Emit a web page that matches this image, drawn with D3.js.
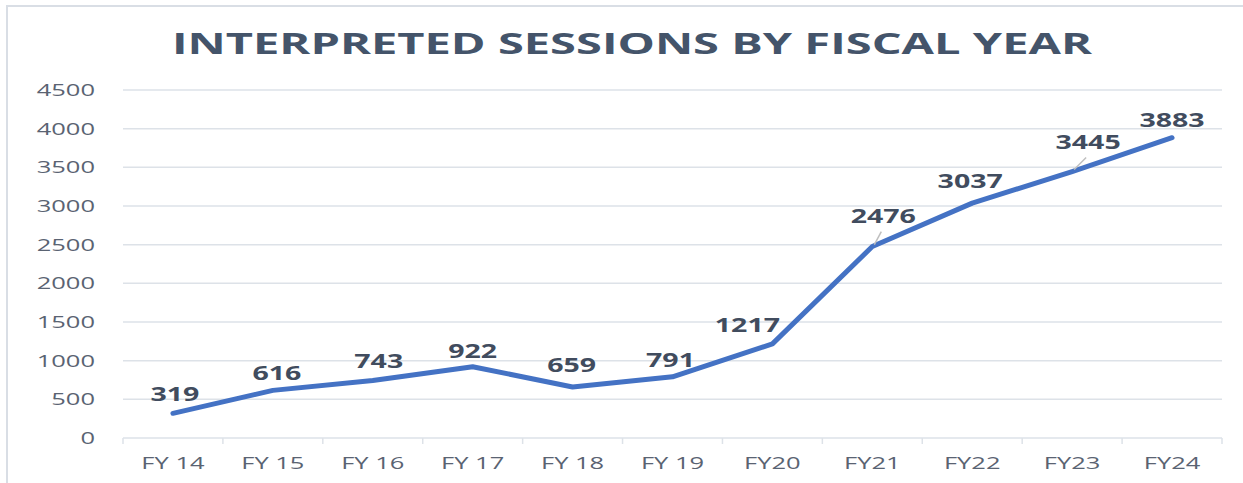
<!DOCTYPE html>
<html><head><meta charset="utf-8">
<script src="https://cdn.jsdelivr.net/npm/d3@7"></script>
<style>body{margin:0;background:#fff}svg{display:block}</style>
</head><body>
<svg id="c" width="1243" height="483"></svg>
<script>
const categories = ["FY 14","FY 15","FY 16","FY 17","FY 18","FY 19","FY20","FY21","FY22","FY23","FY24"];
const sessions = [319,616,743,922,659,791,1217,2476,3037,3445,3883];
const yTicks = [0,500,1000,1500,2000,2500,3000,3500,4000,4500];
const title = "INTERPRETED SESSIONS BY FISCAL YEAR";
// label offsets (style only) relative to each point
const labelDx = [2,4,6,0,-1,-2,-25,11,-2,16,0];
const labelDy = [-12,-10,-13,-9,-15,-10,-12,-24,-15,-23,-11];
const leaders = [false,false,false,false,false,false,false,true,false,true,false];

const svg = d3.select("#c");
const M = {left:123, right:1222, top:90, bottom:438};
const SX = 1.5;

svg.append("rect").attr("x",7).attr("y",6).attr("width",1300).attr("height",600)
  .attr("fill","none").attr("stroke","#D9DEE5").attr("stroke-width",2);

const x = d3.scaleBand().domain(categories).range([M.left,M.right]);
const y = d3.scaleLinear().domain([0,4500]).range([M.bottom,M.top]);

function stretch(sel,f){ sel.each(function(){ const w=this.getComputedTextLength(); d3.select(this).attr("textLength",w*f).attr("lengthAdjust","spacingAndGlyphs");}); }

// gridlines
svg.append("g").selectAll("line").data(yTicks.filter(d=>d>0)).join("line")
  .attr("x1",M.left).attr("x2",M.right).attr("y1",d=>y(d)).attr("y2",d=>y(d))
  .attr("stroke","#DDE2E8").attr("stroke-width",1.5);

// y labels
const yl = svg.append("g").selectAll("text").data(yTicks).join("text")
  .attr("x",95).attr("y",d=>y(d)+6).attr("text-anchor","end")
  .attr("font-family","Open Sans").attr("font-size",17).attr("fill","#5A6372").text(d=>d);
stretch(yl,SX);

// x axis
const xa = svg.append("g").attr("transform",`translate(0,${M.bottom})`)
  .call(d3.axisBottom(x).tickSize(0).tickPadding(0));
xa.select(".domain").remove();
xa.selectAll(".tick").remove();
svg.append("line").attr("x1",M.left).attr("x2",M.right).attr("y1",M.bottom).attr("y2",M.bottom)
  .attr("stroke","#DDE2E8").attr("stroke-width",1.5);
const bounds = categories.map(c=>x(c)).concat([x(categories[categories.length-1])+x.bandwidth()]);
svg.append("g").selectAll("line").data(bounds).join("line")
  .attr("x1",d=>d).attr("x2",d=>d).attr("y1",M.bottom).attr("y2",M.bottom+6)
  .attr("stroke","#DDE2E8").attr("stroke-width",1.5);
const xl = svg.append("g").selectAll("text").data(categories).join("text")
  .attr("x",d=>x(d)+x.bandwidth()/2).attr("y",469).attr("text-anchor","middle")
  .attr("font-family","Open Sans").attr("font-size",17).attr("fill","#5A6372").text(d=>d);
stretch(xl,SX);

// line
const cx = (d,i)=>x(categories[i])+x.bandwidth()/2;
svg.append("path").datum(sessions)
  .attr("d",d3.line().x(cx).y(d=>y(d)))
  .attr("fill","none").attr("stroke","#4472C4").attr("stroke-width",5)
  .attr("stroke-linecap","round").attr("stroke-linejoin","round");

// leader lines
sessions.forEach((d,i)=>{
  if(!leaders[i]) return;
  const px=cx(d,i), py=y(d);
  svg.append("line").attr("x1",px+2).attr("y1",py-2).attr("x2",px+labelDx[i]-2).attr("y2",py+labelDy[i]+9)
    .attr("stroke","#BFBFBF").attr("stroke-width",1.5);
});

// data labels
const dl = svg.append("g").selectAll("text").data(sessions).join("text")
  .attr("x",(d,i)=>cx(d,i)+labelDx[i]).attr("y",(d,i)=>y(d)+labelDy[i])
  .attr("text-anchor","middle").attr("font-family","Open Sans").attr("font-weight","bold")
  .attr("font-size",19).attr("fill","#414C5E").text(d=>d);
stretch(dl,SX);

// title
const t = svg.append("text").attr("x",632).attr("y",54).attr("text-anchor","middle")
  .attr("font-family","Open Sans").attr("font-weight","bold").attr("font-size",28)
  .attr("fill","#44546A").text(title);
t.attr("textLength",920).attr("lengthAdjust","spacingAndGlyphs");
</script>
</body></html>
